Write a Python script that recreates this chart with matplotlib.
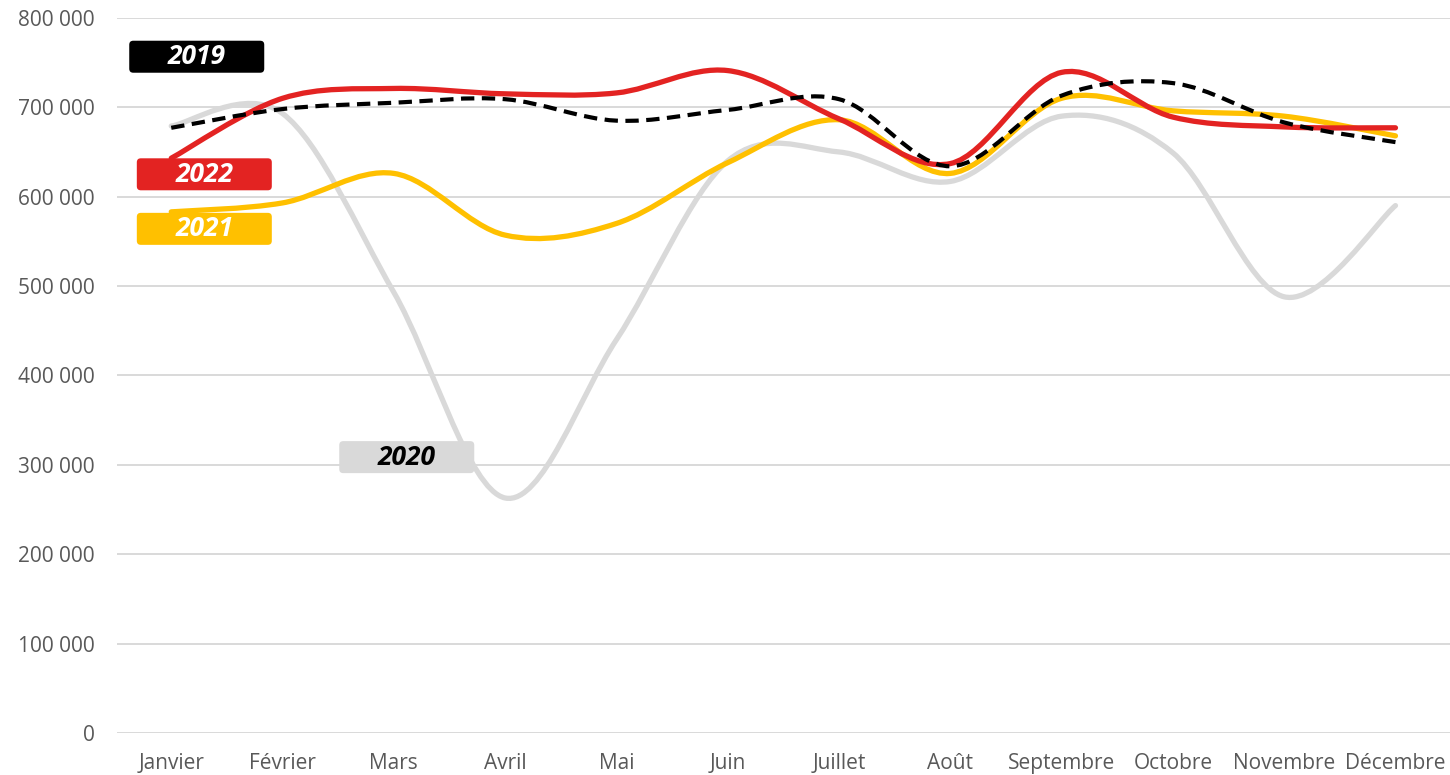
import numpy as np
import matplotlib.pyplot as plt
import matplotlib.transforms as mtransforms
from matplotlib.path import Path
from matplotlib.patches import PathPatch, FancyBboxPatch

# Monthly values
mois = ['Janvier', 'Février', 'Mars', 'Avril', 'Mai', 'Juin', 'Juillet',
        'Août', 'Septembre', 'Octobre', 'Novembre', 'Décembre']
v2019 = [677000, 698000, 705000, 709000, 685000, 697000, 709000,
         634000, 713000, 727000, 683000, 661000]
v2020 = [679000, 693000, 493000, 263000, 440000, 640000, 650000,
         617000, 690000, 649000, 488000, 590000]
v2021 = [583000, 593000, 626000, 557000, 570000, 638000, 686000,
         626000, 710000, 696000, 690000, 668000]
v2022 = [643000, 710000, 721000, 715000, 716000, 741000, 687000,
         637000, 739000, 689000, 678000, 677000]


def smooth_path(x, y):
    # Excel-like smoothed line: cubic Bezier through each point
    p = np.column_stack([x, y]).astype(float)
    ext = np.vstack([p[0], p, p[-1]])
    verts = [p[0]]
    codes = [Path.MOVETO]
    for i in range(len(p) - 1):
        p0, p1, p2, p3 = ext[i], ext[i + 1], ext[i + 2], ext[i + 3]
        c1 = p1 + (p2 - p0) / 6
        c2 = p2 - (p3 - p1) / 6
        verts += [c1, c2, p2]
        codes += [Path.CURVE4] * 3
    return Path(verts, codes)


fig = plt.figure(figsize=(14.5, 7.75), dpi=100)
ax = fig.add_axes([0.0805, 0.054, 0.9195, 0.923])

x = np.arange(len(mois))
series = [
    (v2020, '#D9D9D9', '-'),
    (v2021, '#FFC000', '-'),
    (v2022, '#E32322', '-'),
    (v2019, '#000000', '--'),
]
for vals, col, ls in series:
    lw = 3.0 if ls == '--' else 3.8
    patch = PathPatch(smooth_path(x, vals), facecolor='none', edgecolor=col,
                      lw=lw, capstyle='round', zorder=3)
    if ls == '--':
        patch.set_linestyle((0, (3.2, 1.8)))
        patch.set_capstyle('butt')
    ax.add_patch(patch)

ax.set_xlim(-0.49, 11.49)
ax.set_ylim(0, 800000)
ax.set_yticks(np.arange(0, 800001, 100000))
ax.set_yticklabels(['{:,}'.format(v).replace(',', ' ') for v in range(0, 800001, 100000)])
ax.set_xticks(x)
ax.set_xticklabels(mois)
ax.grid(axis='y', color='#D9D9D9', lw=1.4)
ax.set_axisbelow(True)
for s in ax.spines.values():
    s.set_visible(False)
ax.tick_params(length=0, colors='#595959', labelsize=15)
ax.tick_params(axis='y', pad=16)
ax.tick_params(axis='x', pad=14)
for lab in ax.get_xticklabels() + ax.get_yticklabels():
    lab.set_fontfamily('Open Sans')

# Year labels in rounded boxes (box size in pixels)
labels = [
    ('2019', 0.229, 756500, '#000000', 'white'),
    ('2022', 0.297, 625000, '#E32322', 'white'),
    ('2021', 0.297, 564000, '#FFC000', 'white'),
    ('2020', 2.116, 308700, '#D9D9D9', 'black'),
]
bw, bh = 135, 32
for txt, lx, ly, bg, fg in labels:
    tr = mtransforms.IdentityTransform() + mtransforms.ScaledTranslation(lx, ly, ax.transData)
    box = FancyBboxPatch((-bw / 2, -bh / 2), bw, bh,
                         boxstyle='round,pad=0,rounding_size=4',
                         fc=bg, ec='none', transform=tr, zorder=5, clip_on=False)
    ax.add_patch(box)
    ax.text(lx, ly, txt, ha='center', va='center', color=fg, fontsize=19,
            fontweight='bold', fontstyle='italic', family='Open Sans', zorder=6)

fig.savefig('out.png', dpi=100)
